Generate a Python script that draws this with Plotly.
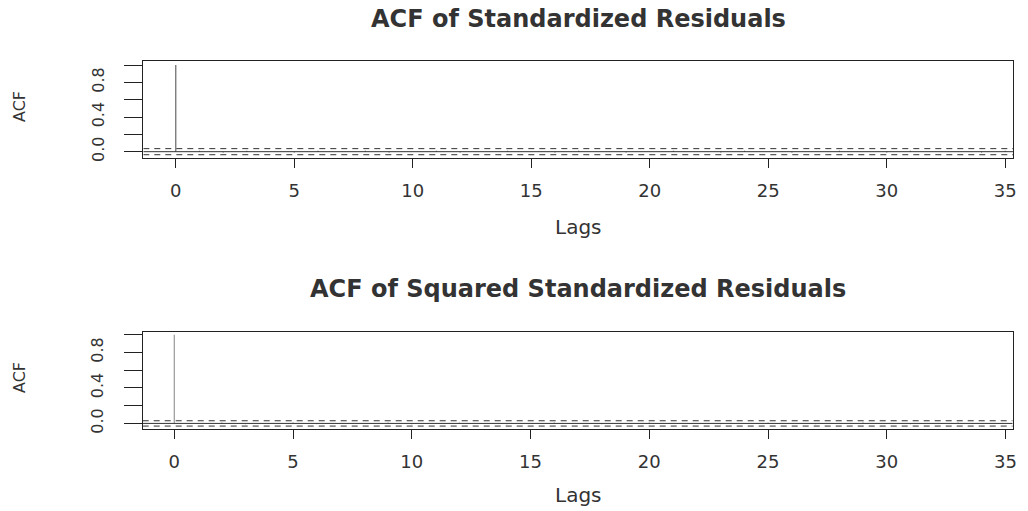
import plotly.graph_objects as go

# ---- data ----
lags = list(range(0, 36))
acf_std = [1.0, 0.01, -0.01, 0.01, 0.0, -0.01, 0.01, 0.0, 0.01, -0.01, 0.0, 0.01,
           -0.01, 0.0, 0.01, 0.0, -0.01, 0.01, 0.0, -0.01, 0.0, 0.01, 0.0, -0.01,
           0.01, 0.0, -0.01, 0.0, 0.01, 0.0, -0.01, 0.01, 0.0, 0.0, -0.01, 0.01]
acf_sq = [1.0, 0.0, 0.01, -0.01, 0.0, 0.01, -0.01, 0.0, 0.0, 0.01, -0.01, 0.0,
          0.01, 0.0, -0.01, 0.0, 0.01, 0.0, -0.01, 0.0, 0.01, 0.0, 0.0, -0.01,
          0.0, 0.01, 0.0, -0.01, 0.0, 0.01, 0.0, -0.01, 0.0, 0.01, 0.0, 0.0]
ci_std = 0.035
ci_sq = 0.03
titles = ["ACF of Standardized Residuals", "ACF of Squared Standardized Residuals"]
x_ticks = [0, 5, 10, 15, 20, 25, 30, 35]
y_ticks = [0.0, 0.2, 0.4, 0.6, 0.8, 1.0]
y_ticktext = ["0.0", "", "0.4", "", "0.8", ""]

W, H = 1028, 511
FONT = "DejaVu Sans"

def px_x(p):
    return p / W

def px_y(p):
    return 1 - p / H

fig = go.Figure()

panels = [
    dict(acf=acf_std, ci=ci_std, xr=[-1.37, 35.34], yr=[-0.073, 1.05],
         dom=[px_y(158.0), px_y(60.7)], xdom=[px_x(143.3), px_x(1013.3)], stem="#666666",
         title_y=19, lags_y=227, acf_y=107),
    dict(acf=acf_sq, ci=ci_sq, xr=[-1.33, 35.3], yr=[-0.063, 1.03],
         dom=[px_y(429.0), px_y(332.0)], xdom=[px_x(142.7), px_x(1012.7)], stem="#999999",
         title_y=289, lags_y=495, acf_y=378),
]

annotations = []
for i, p in enumerate(panels, start=1):
    xa = "x" if i == 1 else f"x{i}"
    ya = "y" if i == 1 else f"y{i}"
    # stems
    sx, sy = [], []
    for lag, v in zip(lags, p["acf"]):
        sx += [lag, lag, None]
        sy += [0, v, None]
    fig.add_trace(go.Scatter(x=sx, y=sy, mode="lines", xaxis=xa, yaxis=ya,
                             line=dict(color=p["stem"], width=1.2),
                             showlegend=False, hoverinfo="skip"))
    xr = p["xr"]
    # zero line
    fig.add_trace(go.Scatter(x=[xr[0], xr[1]], y=[0, 0], mode="lines", xaxis=xa, yaxis=ya,
                             line=dict(color="#333333", width=1),
                             showlegend=False, hoverinfo="skip"))
    # confidence bounds
    for c in (p["ci"], -p["ci"]):
        fig.add_trace(go.Scatter(x=[xr[0], xr[1]], y=[c, c], mode="lines", xaxis=xa, yaxis=ya,
                                 line=dict(color="#333333", width=1, dash="6px,5px"),
                                 showlegend=False, hoverinfo="skip"))
    axkey = "xaxis" if i == 1 else f"xaxis{i}"
    aykey = "yaxis" if i == 1 else f"yaxis{i}"
    fig.update_layout(**{
        axkey: dict(domain=p["xdom"], range=xr, anchor=ya, tickvals=x_ticks,
                    ticktext=[str(t) for t in x_ticks], ticks="outside", ticklen=9,
                    tickcolor="#222", tickwidth=1.3, showline=True, linecolor="#222",
                    linewidth=1.3, mirror=True, showgrid=False, zeroline=False,
                    automargin=False,
                    tickfont=dict(family=FONT, size=18, color="#333"),
                    ticklabelstandoff=7),
        aykey: dict(domain=p["dom"], range=p["yr"], anchor=xa, tickvals=y_ticks,
                    ticktext=y_ticktext, ticks="outside", ticklen=18, tickcolor="#222",
                    tickwidth=1.3, showline=True, linecolor="#222", linewidth=1.3,
                    mirror=True, showgrid=False, zeroline=False, tickangle=-90,
                    automargin=False,
                    tickfont=dict(family=FONT, size=16, color="#333"),
                    ticklabelstandoff=14),
    })
    annotations.append(dict(text=f"<b>{titles[i-1]}</b>", x=px_x(578), y=px_y(p["title_y"]),
                            xref="paper", yref="paper", showarrow=False,
                            xanchor="center", yanchor="middle",
                            font=dict(family=FONT, size=24, color="#333")))
    annotations.append(dict(text="Lags", x=px_x(578), y=px_y(p["lags_y"]),
                            xref="paper", yref="paper", showarrow=False,
                            xanchor="center", yanchor="middle",
                            font=dict(family=FONT, size=20, color="#333")))
    annotations.append(dict(text="ACF", x=px_x(19), y=px_y(p["acf_y"]),
                            xref="paper", yref="paper", showarrow=False, textangle=-90,
                            xanchor="center", yanchor="middle",
                            font=dict(family=FONT, size=16, color="#333")))

fig.update_layout(width=W, height=H, margin=dict(l=0, r=0, t=0, b=0),
                  paper_bgcolor="white", plot_bgcolor="white",
                  annotations=annotations, showlegend=False)

fig.write_html("out.html", config={"displayModeBar": False},
               post_script="document.body.style.margin='0';document.body.style.overflow='hidden';")
